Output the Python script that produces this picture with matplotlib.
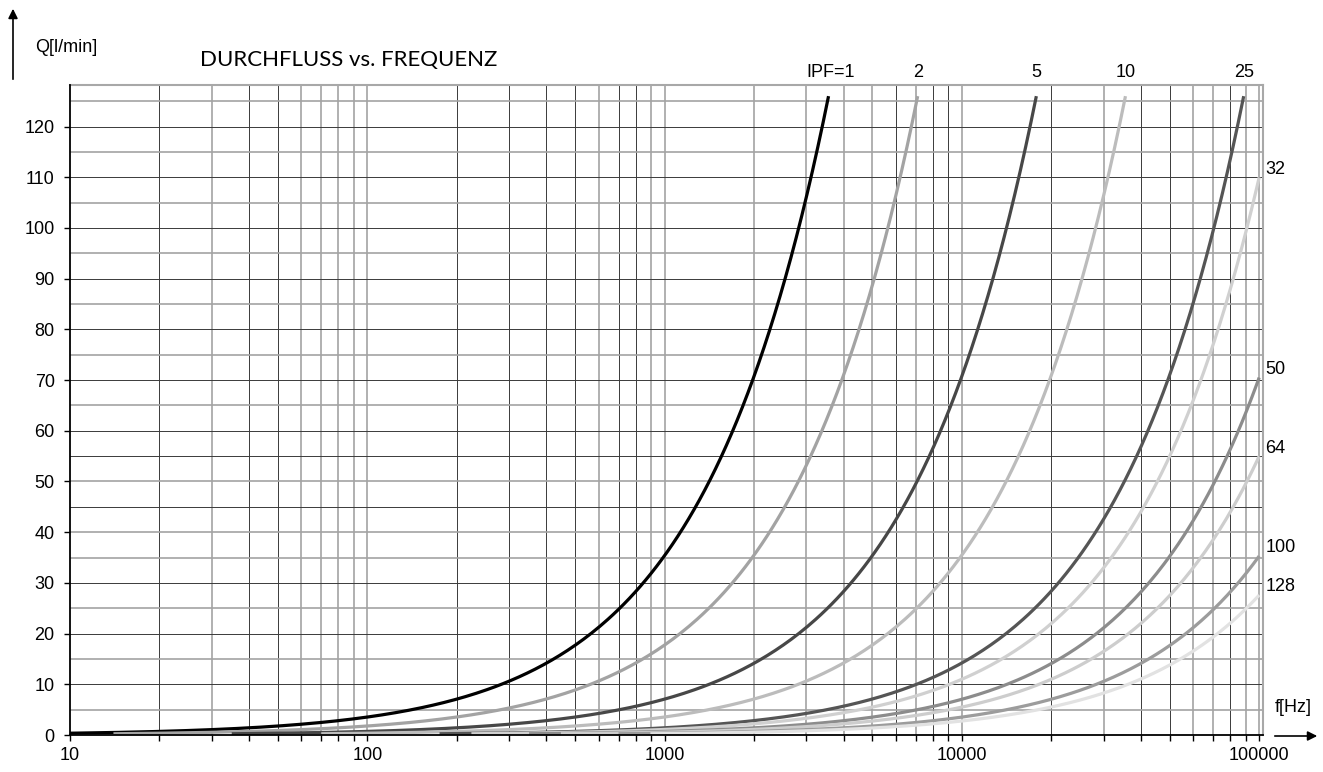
import numpy as np
import matplotlib
import matplotlib.pyplot as plt

matplotlib.use('Agg')

# IPF-Kurven: Start- und Endpunkt jeder Geraden Q ~ f
ipf = [1, 2, 5, 10, 25, 32, 50, 64, 100, 128]
f_start = [7, 14, 35, 70, 175, 224, 350, 448, 700, 896]
f_end = [3560, 7100, 17800, 35500, 88700, 100000, 100000, 100000, 100000, 100000]
q_end = [126, 126, 126, 126, 126, 110, 70.5, 55, 35.3, 27.6]
top_labels = ['IPF=1', '2', '5', '10', '25']
side_labels = ['32', '50', '64', '100', '128']

y_ticks = list(range(0, 121, 10))
x_ticks = [10, 100, 1000, 10000, 100000]
x_ticklabels = ['10', '100', '1000', '10000', '100000']

colors = ['#000000', '#a3a3a3', '#474747', '#bcbcbc', '#555555',
          '#d0d0d0', '#8c8c8c', '#cdcdcd', '#9c9c9c', '#e2e2e2']

plt.rcParams['font.family'] = ['Liberation Sans', 'DejaVu Sans']
fs = 13

fig = plt.figure(figsize=(13.23, 7.72), dpi=100)
ax = fig.add_axes([70 / 1323, 37 / 772, 1193 / 1323, 650 / 772])
ax.set_xscale('log')
ax.set_xlim(10, 103000)
ax.set_ylim(0, 128.2)

# Gitter: mal dunkel und dünn, mal grau und etwas breiter
grid_f = [m * 10 ** d for d in range(1, 5) for m in range(1, 10)] + [100000]
gray_f = {30, 60, 70, 80, 90, 100, 600, 900, 1000, 2000, 3000, 4000, 5000, 7000,
          10000, 30000, 60000, 70000, 90000, 100000}
for f in grid_f[1:]:
    if f in gray_f:
        ax.axvline(f, color='#a3a3a3', lw=1.2, zorder=1)
    else:
        ax.axvline(f, color='#3a3a3a', lw=0.7, zorder=1)
gray_q = {5, 15, 25, 35, 40, 50, 65, 75, 85, 95, 105, 115, 125}
for q in range(5, 128, 5):
    if q in gray_q:
        ax.axhline(q, color='#a3a3a3', lw=1.2, zorder=1)
    else:
        ax.axhline(q, color='#3a3a3a', lw=0.7, zorder=1)

for i in range(len(ipf)):
    f = np.geomspace(f_start[i], f_end[i], 300)
    q = q_end[i] * f / f_end[i]
    ax.plot(f, q, color=colors[i], lw=2.3, zorder=3 + i, solid_capstyle='butt')

for i, lab in enumerate(top_labels):
    ax.text(f_end[i] * (1.02 if i == 0 else 1.0), 130.6, lab, ha='center', va='center',
            fontsize=fs, clip_on=False)
for j, lab in enumerate(side_labels):
    i = j + 5
    ax.text(1.002, q_end[i] + 1.6, lab, transform=ax.get_yaxis_transform(),
            ha='left', va='center', fontsize=fs, clip_on=False)

ax.set_yticks(y_ticks)
ax.set_xticks(x_ticks)
ax.set_xticklabels(x_ticklabels)
ax.xaxis.set_minor_locator(matplotlib.ticker.FixedLocator(grid_f))
ax.xaxis.set_minor_formatter(matplotlib.ticker.NullFormatter())
ax.tick_params(axis='both', which='both', direction='out', length=4, width=1,
               labelsize=fs, color='black')
ax.tick_params(axis='x', pad=5)
ax.tick_params(axis='y', pad=7)

for side in ['top', 'right']:
    ax.spines[side].set_color('#a8a8a8')
    ax.spines[side].set_linewidth(1.5)
for side in ['left', 'bottom']:
    ax.spines[side].set_color('black')
    ax.spines[side].set_linewidth(1.3)
    ax.spines[side].set_zorder(20)

# Achsbeschriftungen mit Pfeilen
fig.text(35 / 1323, 1 - 47 / 772, 'Q[l/min]', fontsize=fs, va='center', ha='left')
fig.text(200 / 1323, 1 - 60 / 772, 'DURCHFLUSS vs. FREQUENZ', fontsize=16,
         va='center', ha='left', family=['Lato', 'DejaVu Sans'])
fig.text(1275 / 1323, 1 - 708 / 772, 'f[Hz]', fontsize=fs, va='center', ha='left')
ax.annotate('', xy=(13, 772 - 6), xytext=(13, 772 - 82), xycoords='figure pixels',
            textcoords='figure pixels',
            arrowprops=dict(arrowstyle='-|>', color='black', lw=1.2, mutation_scale=14))
ax.annotate('', xy=(1320, 772 - 736), xytext=(1272, 772 - 736), xycoords='figure pixels',
            textcoords='figure pixels',
            arrowprops=dict(arrowstyle='-|>', color='black', lw=1.2, mutation_scale=14))

plt.savefig('out.png', dpi=100)
